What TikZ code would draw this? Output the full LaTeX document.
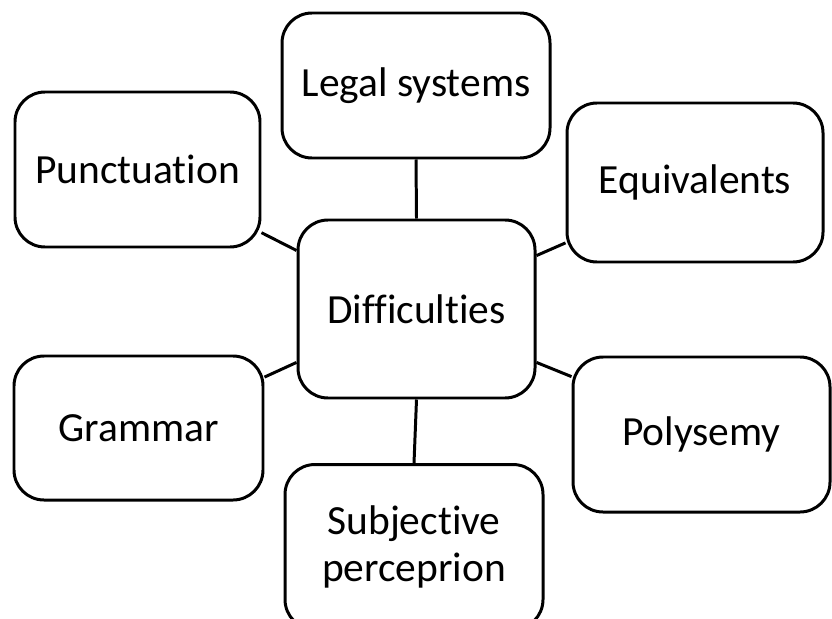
\documentclass[tikz,border=0pt]{standalone}
\usepackage{fontspec}
\setmainfont[RawFeature={-liga}]{Carlito}
\usetikzlibrary{positioning}

\begin{document}
\begin{tikzpicture}
[draw=black, line width=1.7pt,
topic/.style={rectangle, rounded corners=0.6cm, draw, fill=white, inner sep=0pt, align=center, font=\fontsize{23.6}{26.5}\selectfont},
entry/.style={topic, minimum width=5.1cm, minimum height=3.1cm}]

\useasboundingbox (0,0) rectangle (16.64,-12.36);

\node[topic, minimum width=4.74cm, minimum height=3.56cm] (diff) at (8.33,-6.18) {Difficulties};

\node[entry, minimum width=5.36cm, minimum height=2.9cm] (legal) at (8.32,-1.71) {Legal systems};
\node[entry, minimum width=4.9cm] (punct) at (2.75,-3.39) {Punctuation};
\node[entry, minimum width=5.12cm, minimum height=3.18cm] (equiv) at (13.9,-3.65) {Equivalents};
\node[entry, minimum width=4.98cm, minimum height=2.88cm] (gram) at (2.77,-8.56) {Grammar};
\node[entry, minimum width=5.14cm] (poly) at (14.03,-8.69) {Polysemy};
\node[entry, minimum width=5.16cm, minimum height=3.3cm] (subj) at (8.28,-10.94) {Subjective\\perceprion};

\draw (legal.south) -- (diff.north);
\draw (punct.-27) -- (diff.154);
\draw (equiv.-155) -- (diff.24.5);
\draw (gram.22.7) -- (diff.-156);
\draw (poly.156.3) -- (diff.-24.1);
\draw (subj.north) -- (diff.south);
\end{tikzpicture}
\end{document}
